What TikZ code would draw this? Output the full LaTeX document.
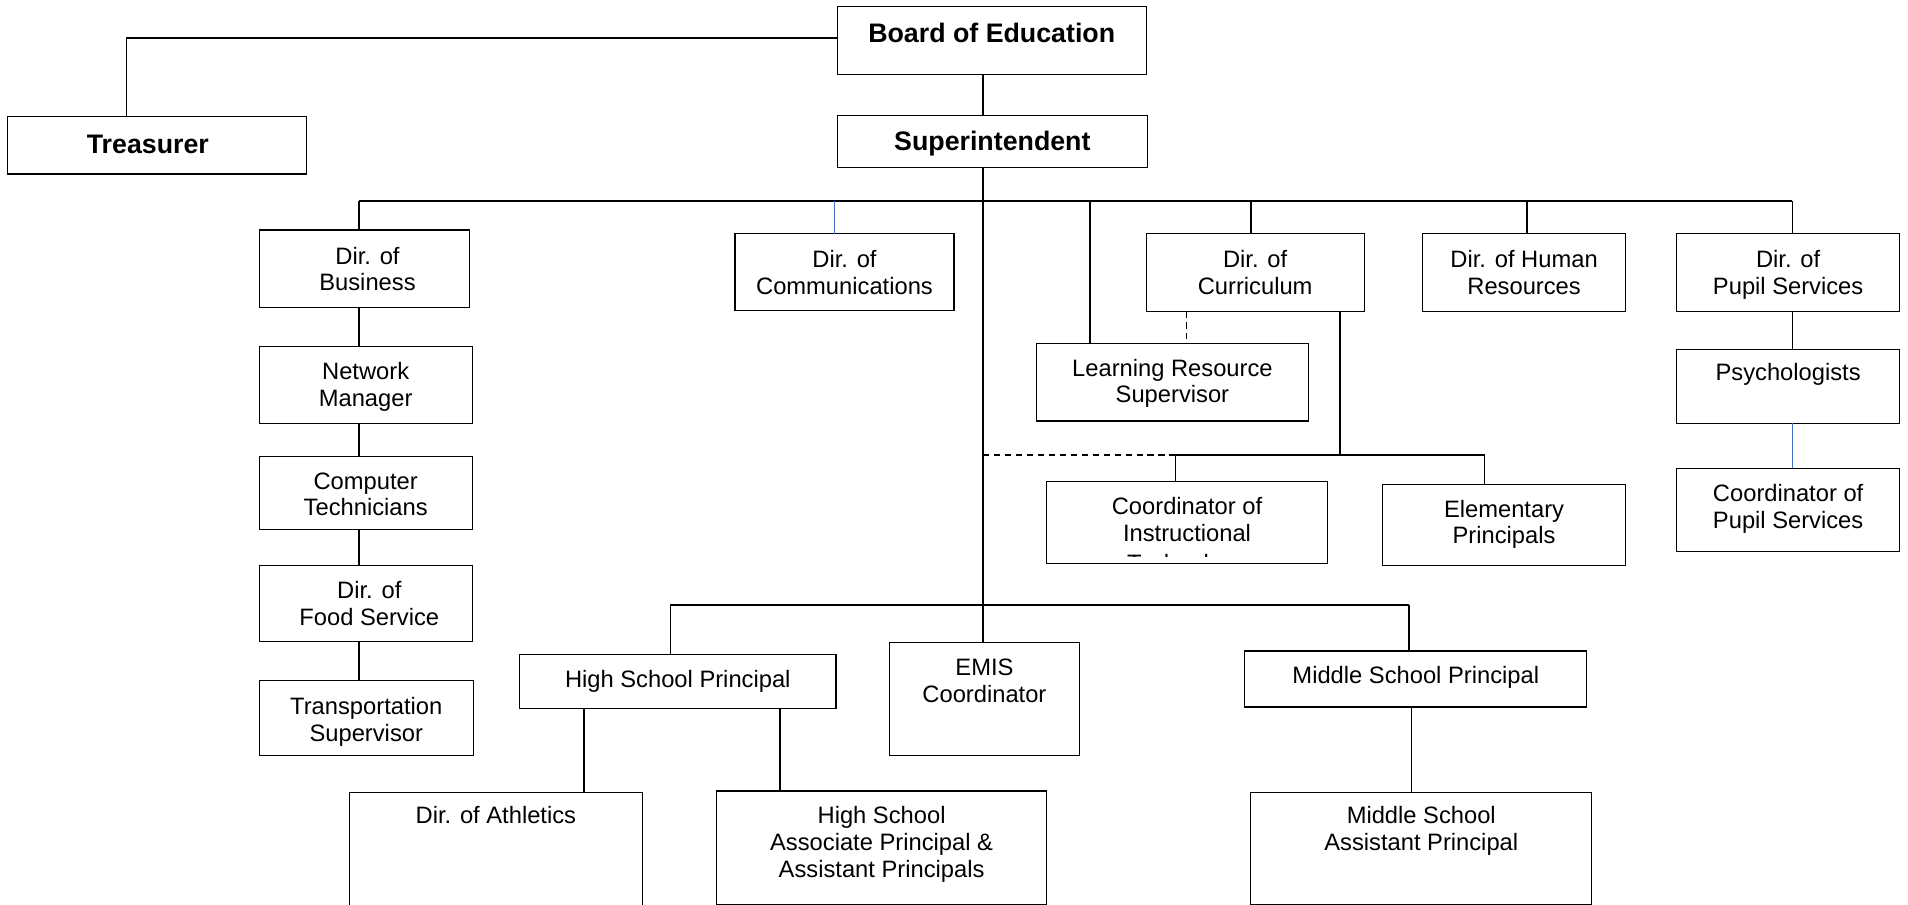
\documentclass[tikz,border=0pt]{standalone}
\usepackage{fontspec}
\setmainfont{Liberation Sans}
\definecolor{linkblue}{RGB}{68,114,196}
\newcommand\fnorm{\fontsize{19.5}{22}\selectfont}
\newcommand\fbold{\fontsize{22}{26}\selectfont\bfseries}
% name, x, y(top), width, height, first-baseline offset, font, text
\newcommand\obox[8]{\node[obox,anchor=north west] (#1) at (#2,#3) {\parbox[t][#5pt][t]{#4pt}{#7\centering\vspace*{\dimexpr#6pt-\ht\strutbox\relax}\strut#8}};}
\tikzset{
  obox/.style={draw, line width=0.9pt, inner sep=0pt, outer sep=0pt},
  conn/.style={draw, line width=1.4pt},
  bus/.style={draw, line width=1.9pt},
  blueconn/.style={draw=linkblue, line width=1.2pt},
  dashconn/.style={draw, line width=1.3pt, dashed, dash pattern=on 5pt off 4pt},
}
\begin{document}
\begin{tikzpicture}[x=1pt,y=-1pt]
\useasboundingbox (0,0) rectangle (1568,743.7);
\clip (0,0) rectangle (1568,743.7);
% boxes
\obox{board}{688}{5}{254}{56}{30}{\fbold}{Board of Education}
\obox{treas}{6}{96}{246}{47}{30}{\fbold}{\hspace*{-15pt}Treasurer}
\obox{sup}{688}{95}{255}{43}{29}{\fbold}{Superintendent}
\obox{biz}{213}{189}{173}{64}{28}{\fnorm}{\hspace*{5pt}Dir. of\\\hspace*{5pt}Business}
\obox{comm}{604}{192}{180}{63}{28}{\fnorm}{Dir. of\\Communications}
\obox{cur}{942}{192}{179}{64}{28}{\fnorm}{Dir. of\\Curriculum}
\obox{hr}{1169}{192}{167}{64}{28}{\fnorm}{Dir. of Human\\Resources}
\obox{pupil}{1378}{192}{183}{64}{28}{\fnorm}{Dir. of\\Pupil Services}
\obox{net}{213}{285}{175}{63}{27}{\fnorm}{Network\\Manager}
\obox{comp}{213}{375}{175}{60}{27}{\fnorm}{Computer\\Technicians}
\obox{food}{213}{465}{175}{62}{27}{\fnorm}{\hspace*{6pt}Dir. of\\\hspace*{6pt}Food Service}
\obox{trans}{213}{559}{176}{62}{28}{\fnorm}{Transportation\\Supervisor}
\obox{lrs}{852}{282}{223}{64}{27}{\fnorm}{Learning Resource\\Supervisor}
\obox{psych}{1378}{287}{183}{61}{26}{\fnorm}{Psychologists}
\obox{cps}{1378}{385}{183}{68}{27}{\fnorm}{Coordinator of\\Pupil Services}
\obox{cit}{860}{396}{231}{67}{27}{\fnorm}{Coordinator of\\Instructional}
\obox{elem}{1136}{398}{200}{67}{27}{\fnorm}{Elementary\\Principals}
\obox{hsp}{427}{538}{260}{44}{27}{\fnorm}{High School Principal}
\obox{emis}{731}{528}{156}{93}{27}{\fnorm}{EMIS\\Coordinator}
\obox{msp}{1023}{535}{281}{46}{27}{\fnorm}{Middle School Principal}
\obox{ath}{287}{651}{241}{100}{26}{\fnorm}{Dir. of Athletics}
\obox{hsa}{589}{650}{271}{93}{27}{\fnorm}{High School\\Associate Principal \&\\Assistant Principals}
\obox{msa}{1028}{651}{280}{92}{26}{\fnorm}{Middle School\\Assistant Principal}
% clipped third line of the instructional coordinator box
\begin{scope}
  \clip (860,396) rectangle (1091,457.5);
  \node[anchor=base, inner sep=0pt, font=\fnorm] (cit3) at (975.5,470) {Technology};
\end{scope}
% helper coordinates
\coordinate (trunk) at (808,0);
\coordinate (topbus) at (0,165);
\coordinate (curbus) at (0,374);
\coordinate (schbus) at (0,497);
\coordinate (xBiz) at (295,0);
\coordinate (xComm) at (686,0);
\coordinate (xLrs) at (896,0);
\coordinate (xCur) at (1028,0);
\coordinate (xHr) at (1255,0);
\coordinate (xPup) at (1473,0);
\coordinate (xDash) at (975,0);
\coordinate (xCurDn) at (1101,0);
\coordinate (xCit) at (966,0);
\coordinate (xElem) at (1220,0);
\coordinate (xHsp) at (551,0);
\coordinate (xMsp) at (1158,0);
\coordinate (xAth) at (480,0);
\coordinate (xHsa) at (641,0);
\coordinate (xMsa) at (1160,0);
\coordinate (xTreas) at (104,0);
% board / treasurer / superintendent
\path[conn] (board.west |- 0,31) -| (treas.north -| xTreas);
\path[conn] (board.south -| trunk) -- (sup.north -| trunk);
\path[bus] (sup.south -| trunk) -- (emis.north -| trunk);
% top bus
\path[bus] (xBiz |- topbus) -- (xPup |- topbus);
\path[conn] (xBiz |- topbus) -- (xBiz |- biz.north);
\path[blueconn] (xComm |- topbus) -- (xComm |- comm.north);
\path[conn] (xLrs |- topbus) -- (xLrs |- lrs.north);
\path[conn] (xCur |- topbus) -- (xCur |- cur.north);
\path[conn] (xHr |- topbus) -- (xHr |- hr.north);
\path[conn] (xPup |- topbus) -- (xPup |- pupil.north);
% business column
\path[conn] (xBiz |- biz.south) -- (xBiz |- net.north);
\path[conn] (xBiz |- net.south) -- (xBiz |- comp.north);
\path[conn] (xBiz |- comp.south) -- (xBiz |- food.north);
\path[conn] (xBiz |- food.south) -- (xBiz |- trans.north);
% curriculum
\path[dashconn] (xDash |- cur.south) -- (xDash |- lrs.north);
\path[conn] (xCurDn |- cur.south) -- (xCurDn |- curbus);
\path[conn] (xCit |- curbus) -- (xElem |- curbus);
\path[conn] (xCit |- curbus) -- (xCit |- cit.north);
\path[conn] (xElem |- curbus) -- (xElem |- elem.north);
\path[dashconn] (trunk |- curbus) -- (xCit |- curbus);
% pupil services
\path[conn] (xPup |- pupil.south) -- (xPup |- psych.north);
\path[blueconn] (xPup |- psych.south) -- (xPup |- cps.north);
% schools
\path[bus] (xHsp |- schbus) -- (xMsp |- schbus);
\path[conn] (xHsp |- schbus) -- (xHsp |- hsp.north);
\path[conn] (xMsp |- schbus) -- (xMsp |- msp.north);
\path[conn] (xAth |- hsp.south) -- (xAth |- ath.north);
\path[conn] (xHsa |- hsp.south) -- (xHsa |- hsa.north);
\path[conn] (xMsa |- msp.south) -- (xMsa |- msa.north);
\end{tikzpicture}
\end{document}
